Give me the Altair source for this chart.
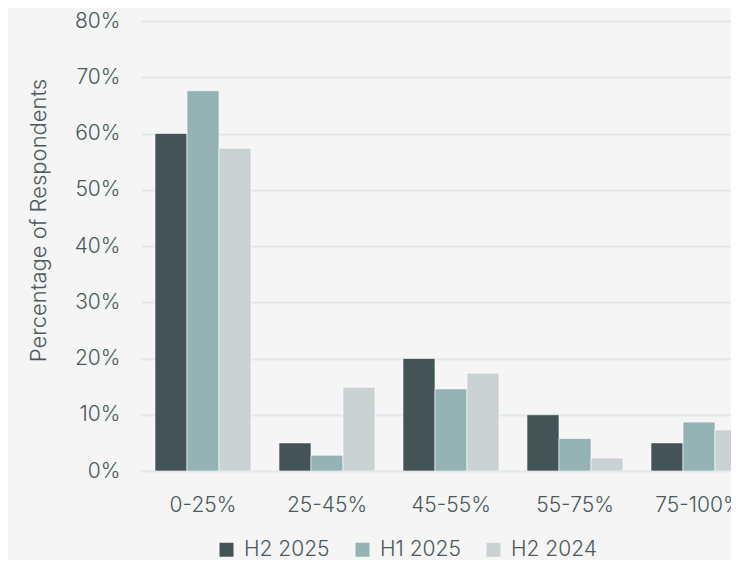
import altair as alt
import pandas as pd

categories = ["0-25%", "25-45%", "45-55%", "55-75%", "75-100%"]
series = ["H2 2025", "H1 2025", "H2 2024"]
h2_2025 = [0.60, 0.05, 0.20, 0.10, 0.05]
h1_2025 = [0.676, 0.028, 0.146, 0.058, 0.087]
h2_2024 = [0.574, 0.149, 0.174, 0.023, 0.073]
colors = ["#435356", "#95b3b5", "#c9d1d3"]
y_ticks = [0, 0.1, 0.2, 0.3, 0.4, 0.5, 0.6, 0.7, 0.8]

rows = []
for s, vals in zip(series, [h2_2025, h1_2025, h2_2024]):
    for c, v in zip(categories, vals):
        rows.append({"category": c, "series": s, "value": v})
df = pd.DataFrame(rows)

font = "Inter"
fw = 300
fs = 21
text_color = "#4b595b"

chart = alt.Chart(df).mark_bar(
    stroke="#ffffff", strokeOpacity=0.6, strokeWidth=1, clip=True
).encode(
    x=alt.X("category:N", sort=categories,
            scale=alt.Scale(range=[0, 620], paddingInner=0.2258, paddingOuter=0.1129),
            axis=alt.Axis(title=None, labelAngle=0, ticks=False, domain=False,
                          labelPadding=23, labelFontSize=fs, labelColor=text_color,
                          labelFont=font, labelFontWeight=fw)),
    xOffset=alt.XOffset("series:N", sort=series, scale=alt.Scale(paddingInner=0, paddingOuter=0)),
    y=alt.Y("value:Q",
            scale=alt.Scale(domain=[0, 0.8]),
            axis=alt.Axis(title="Percentage of Respondents", format=".0%", values=y_ticks,
                          ticks=False, domain=False, labelPadding=21, labelFontSize=fs,
                          labelColor=text_color, labelFont=font, labelFontWeight=fw,
                          titleFont=font, titleFontSize=22, titleColor=text_color,
                          titleFontWeight=fw, titleX=-103, titleY=199,
                          titleBaseline="middle", titleAngle=270,
                          gridColor="#e2e8e8", gridWidth=2)),
    color=alt.Color("series:N", sort=series,
                    scale=alt.Scale(domain=series, range=colors),
                    legend=alt.Legend(title=None, orient="none", direction="horizontal",
                                      legendX=75, legendY=518, symbolType="square",
                                      symbolSize=196, symbolStrokeWidth=0,
                                      labelFontSize=fs, labelColor=text_color,
                                      labelFont=font, labelFontWeight=fw,
                                      labelOffset=7, columnPadding=22)),
).properties(
    width=590, height=450, background="#f5f5f5",
    padding={"left": 133, "top": 13, "right": 0, "bottom": 89},
    autosize=alt.AutoSizeParams(type="none"),
).configure_view(stroke=None)

chart.save("out.html", embed_options={"renderer": "svg", "actions": False})
